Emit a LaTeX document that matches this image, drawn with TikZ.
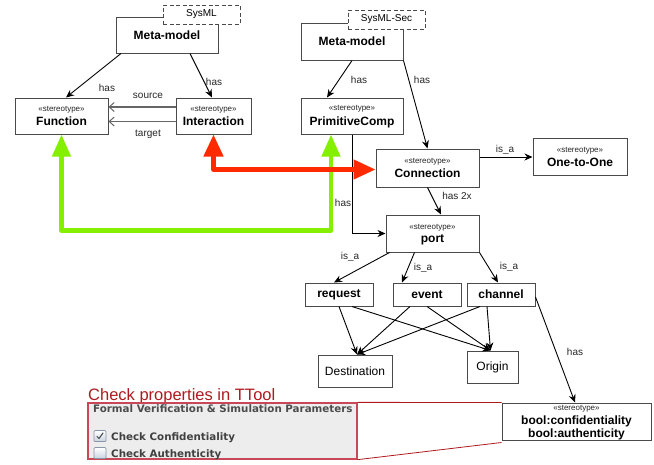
\documentclass[tikz,border=0pt]{standalone}
\usepackage{fontspec}
\setmainfont{Liberation Sans}
\newfontfamily\uifont{DejaVu Sans}
\usetikzlibrary{arrows.meta,calc}
\definecolor{boxline}{HTML}{4A4A4A}
\definecolor{hot}{HTML}{FF2A00}
\definecolor{lime}{HTML}{84F000}
\definecolor{ttred}{HTML}{AE1A1E}
\definecolor{panelred}{HTML}{C8485A}
\definecolor{panelbg}{HTML}{EDEDED}
\definecolor{cbline}{HTML}{8A96A8}
\definecolor{cbfill}{HTML}{C9D3E0}
\begin{document}
\begin{tikzpicture}[x=1pt,y=-1pt,
  box/.style={draw=boxline,line width=1pt,fill=white,inner sep=0pt},
  tagbox/.style={draw=boxline,dashed,dash pattern=on 4pt off 2.5pt,line width=1pt,fill=white,inner sep=0pt,font=\fontsize{10}{12}\selectfont},
  st/.style={font=\fontsize{8}{9}\selectfont,inner sep=0pt,anchor=base,text=black!85},
  nm/.style={font=\fontsize{12}{14}\selectfont\bfseries,inner sep=0pt},
  plain/.style={font=\fontsize{12}{14}\selectfont,inner sep=0pt},
  lbl/.style={font=\fontsize{10}{12}\selectfont,inner sep=0pt,text=black!85},
  link/.style={draw=black,line width=0.9pt,-{Stealth[length=8pt,width=7pt]}},
  grayarrow/.style={draw=black!60,line width=1.5pt,-{Straight Barb[length=5pt,width=9pt,line width=1pt]}},
  hotarrow/.style={draw=hot,line width=4.5pt,line join=round,{Triangle[length=22pt,width=19pt]}-{Triangle[length=22pt,width=19pt]}},
  limearrow/.style={draw=lime,line width=4.5pt,line join=round,{Triangle[length=22pt,width=18pt]}-{Triangle[length=22pt,width=18pt]}},
  ui/.style={font=\uifont\bfseries\fontsize{10.3}{12}\selectfont,inner sep=0pt,anchor=base west,text=black!75},
  cbox/.style={draw=cbline,line width=0.7pt,rounded corners=1pt,top color=white,bottom color=cbfill,minimum width=12pt,minimum height=11pt,inner sep=0pt}
]
\useasboundingbox (0,0) rectangle (654,464);

% ---------- SysML side ----------
\node[box,nm,minimum width=102pt,minimum height=36pt] (metaL) at (167,35) {Meta-model};
\node[tagbox,minimum width=77pt,minimum height=19pt] (tagL) at (201.5,14.5) {SysML};

\node[box,minimum width=93pt,minimum height=36pt] (func) at (61.5,116) {};
\node[st] (funcS) at ([yshift=-13.5pt]func.north) {«stereotype»};
\node[nm,anchor=base] (funcN) at ([yshift=-28.3pt]func.north) {Function};

\node[box,minimum width=75pt,minimum height=36pt] (inter) at (213.5,116) {};
\node[st] (interS) at ([yshift=-13.5pt]inter.north) {«stereotype»};
\node[nm,anchor=base] (interN) at ([yshift=-28.3pt]inter.north) {Interaction};

% ---------- SysML-Sec side ----------
\node[box,nm,minimum width=102pt,minimum height=37pt] (metaR) at (352,41.5) {Meta-model};
\node[tagbox,minimum width=77pt,minimum height=19pt] (tagR) at (386.5,19.5) {SysML-Sec};

\node[box,minimum width=102pt,minimum height=36pt] (prim) at (352,116) {};
\node[st] (primS) at ([yshift=-13pt]prim.north) {«stereotype»};
\node[nm,anchor=base] (primN) at ([yshift=-28pt]prim.north) {PrimitiveComp};

\node[box,minimum width=103pt,minimum height=38pt] (conn) at (427.5,168) {};
\node[st] (connS) at ([yshift=-15pt]conn.north) {«stereotype»};
\node[nm,anchor=base] (connN) at ([yshift=-28.5pt]conn.north) {Connection};

\node[box,minimum width=94pt,minimum height=37pt] (one) at (580,156.5) {};
\node[st] (oneS) at ([yshift=-15pt]one.north) {«stereotype»};
\node[nm,anchor=base] (oneN) at ([yshift=-29pt]one.north) {One-to-One};

\node[box,minimum width=93pt,minimum height=37pt] (port) at (432.5,233.5) {};
\node[st] (portS) at ([yshift=-15pt]port.north) {«stereotype»};
\node[nm,anchor=base] (portN) at ([yshift=-27.5pt]port.north) {port};

\node[box,nm,minimum width=68pt,minimum height=23pt] (req) at (339,294.5) {request};
\node[box,nm,minimum width=68pt,minimum height=23pt] (evt) at (427,294.5) {event};
\node[box,nm,minimum width=68pt,minimum height=23pt] (chan) at (501,294.5) {channel};

\node[box,plain,minimum width=74pt,minimum height=32pt] (dest) at (355,371) {Destination};
\node[box,plain,minimum width=51pt,minimum height=32pt] (orig) at (492.5,367) {Origin};

\node[box,minimum width=149pt,minimum height=37pt] (bool) at (576.5,421.5) {};
\node[st] (boolS) at ([yshift=-7.5pt]bool.north) {«stereotype»};
\node[nm,anchor=base] (boolA) at ([yshift=-21.5pt]bool.north) {bool:confidentiality};
\node[nm,anchor=base] (boolB) at ([yshift=-35pt]bool.north) {bool:authenticity};

% ---------- connectors ----------
\draw[link] ([xshift=-46pt]metaL.south) -- ([xshift=4.5pt]func.north);
\draw[link] ([xshift=23pt]metaL.south) -- ([xshift=-1.5pt]inter.north);
\node[lbl] (hasA) at (107,88) {has};
\node[lbl] (hasB) at (214,82) {has};

\draw[grayarrow] ([yshift=9pt]inter.west) -- ([yshift=9pt]func.east);
\draw[grayarrow] ([yshift=-5.5pt]inter.west) -- ([yshift=-5.5pt]func.east);
\node[lbl] (src) at (148,96) {source};
\node[lbl] (tgt) at (148,134) {target};

\draw[link] (metaR.south) -- ([xshift=-25pt]prim.north);
\draw[link] (metaR.south east) -- (conn.north);
\node[lbl] (hasC) at (359,80) {has};
\node[lbl] (hasD) at (422,80) {has};

\draw[link] (prim.south) |- (port.west);
\node[lbl] (hasE) at (343,203) {has};

\draw[link] ([yshift=11pt]conn.east) -- ([yshift=-0.5pt]one.west);
\node[lbl] (isaA) at (505,150) {is\_a};

\draw[link] (conn.south) -- ([xshift=8.5pt]port.north);
\node[lbl] (has2x) at (457,196) {has 2x};

\draw[link] ([xshift=4pt]port.south west) -- ([xshift=-5pt]req.north);
\draw[link] ([xshift=-18pt]port.south) -- ([xshift=-25pt]evt.north);
\draw[link] (port.south east) -- ([xshift=-3pt]chan.north);
\node[lbl] (isaB) at (350,257) {is\_a};
\node[lbl] (isaC) at (423,268) {is\_a};
\node[lbl] (isaD) at (509,267) {is\_a};

\draw[link] (req.south) -- ([xshift=2pt]dest.north);
\draw[link] ([xshift=13pt]req.south) -- ([xshift=-2pt]orig.north);
\draw[link] ([xshift=-17pt]evt.south) -- ([xshift=2pt]dest.north);
\draw[link] (evt.south) -- ([xshift=-2pt]orig.north);
\draw[link] ([xshift=-21pt]chan.south) -- ([xshift=2pt]dest.north);
\draw[link] ([xshift=-14pt]chan.south) -- ([xshift=-2pt]orig.north);

\draw[link] ([yshift=-2.5pt]chan.east) -- ([xshift=-1.5pt]bool.north);
\node[lbl] (hasF) at (575,352) {has};

% ---------- traceability arrows ----------
\draw[limearrow] (func.south) -- ++(0,96) -| ([xshift=-21pt]prim.south);
\draw[hotarrow] (inter.south) |- ([yshift=-1.5pt]conn.west);

% ---------- TTool panel ----------
\node[font=\fontsize{16.5}{18}\selectfont,text=ttred,anchor=base west,inner sep=0pt] (ttl) at (88,400) {Check properties in TTool};
\node[draw=panelred,line width=1.3pt,fill=panelbg,minimum width=269pt,minimum height=56pt,inner sep=0pt] (panel) at (222.5,431) {};
\node[ui,text=black!70] (ptitle) at (93,412) {Formal Verification \& Simulation Parameters};
\node[cbox] (cb1) at (100,436) {};
\node[cbox] (cb2) at (100,453) {};
\draw[black!75,line width=1pt,line cap=round,line join=round]
  ([shift={(-3,0.5)}]cb1.center) -- ([shift={(-1,2.5)}]cb1.center) -- ([shift={(3,-3)}]cb1.center);
\node[ui] (c1) at (111,440) {Check Confidentiality};
\node[ui] (c2) at (111,457) {Check Authenticity};

\draw[ttred,line width=0.8pt] (panel.north east) -- (bool.north west);
\draw[ttred,line width=0.8pt] (panel.south east) -- ([yshift=-2pt]bool.south west);
\end{tikzpicture}
\end{document}
